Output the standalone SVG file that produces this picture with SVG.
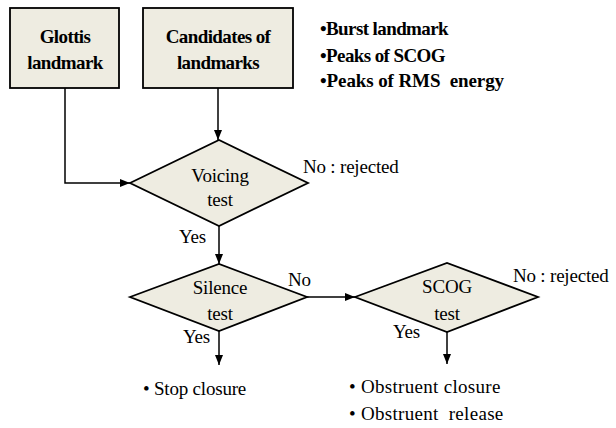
<svg xmlns="http://www.w3.org/2000/svg" width="616" height="428" viewBox="0 0 616 428">
<style>
.shape{fill:#EEECE1;stroke:#000;stroke-width:1.8}
.t{font-family:'Liberation Serif','Times New Roman',serif;font-size:19px;fill:#000;letter-spacing:-0.2px;white-space:pre}
.b{font-weight:bold;letter-spacing:-0.6px}
.c{text-anchor:middle}
.w{letter-spacing:0.3px}
.line{fill:none;stroke:#000;stroke-width:1.5}
</style>
<defs>
<marker id="ah" markerWidth="10" markerHeight="8" refX="10" refY="4" orient="auto" markerUnits="userSpaceOnUse">
<path d="M0,0 L10,4 L0,8 Z" fill="#000"/>
</marker>
</defs>
<rect width="616" height="428" fill="#fff"/>
<g id="connectors">
<path class="line" d="M65,88 V183 H130" marker-end="url(#ah)"/>
<path class="line" d="M218,88 V140" marker-end="url(#ah)"/>
<path class="line" d="M219,226 V264" marker-end="url(#ah)"/>
<path class="line" d="M307,297 H355" marker-end="url(#ah)"/>
<path class="line" d="M219,331 V365" marker-end="url(#ah)"/>
<path class="line" d="M447,332 V364" marker-end="url(#ah)"/>
<text class="t" x="179" y="243">Yes</text>
<text class="t" x="183" y="343">Yes</text>
<text class="t" x="288" y="286">No</text>
<text class="t" x="393" y="338">Yes</text>
<text class="t" x="303" y="173">No : rejected</text>
<text class="t" x="513" y="282">No : rejected</text>
</g>
<g id="glottis">
<rect class="shape" x="10" y="8" width="109" height="80"/>
<text class="t b c" x="65" y="43">Glottis</text>
<text class="t b c" x="65" y="69">landmark</text>
</g>
<g id="candidates">
<rect class="shape" x="143" y="8" width="150" height="80"/>
<text class="t b c" x="218" y="43">Candidates of</text>
<text class="t b c" x="218" y="69">landmarks</text>
</g>
<g id="candidate-list">
<text class="t b" x="320" y="35">•Burst landmark</text>
<text class="t b" x="320" y="62">•Peaks of SCOG</text>
<text class="t b" x="320" y="87" style="letter-spacing:-0.1px">•Peaks of RMS  energy</text>
</g>
<g id="voicing">
<polygon class="shape" points="130,183 219,140 308,183 219,226"/>
<text class="t c" x="220" y="182">Voicing</text>
<text class="t c" x="220" y="206">test</text>
</g>
<g id="silence">
<polygon class="shape" points="130,297 219,264 307,297 219,331"/>
<text class="t c" x="220" y="294">Silence</text>
<text class="t c" x="220" y="320">test</text>
</g>
<g id="scog">
<polygon class="shape" points="355,297 447,263 538,297 447,332"/>
<text class="t c" x="447" y="293">SCOG</text>
<text class="t c" x="447" y="320">test</text>
</g>
<g id="stop-closure">
<text class="t" x="143" y="395">• Stop closure</text>
</g>
<g id="obstruent">
<text class="t w" x="349" y="393">• Obstruent closure</text>
<text class="t w" x="349" y="420">• Obstruent  release</text>
</g>
</svg>
